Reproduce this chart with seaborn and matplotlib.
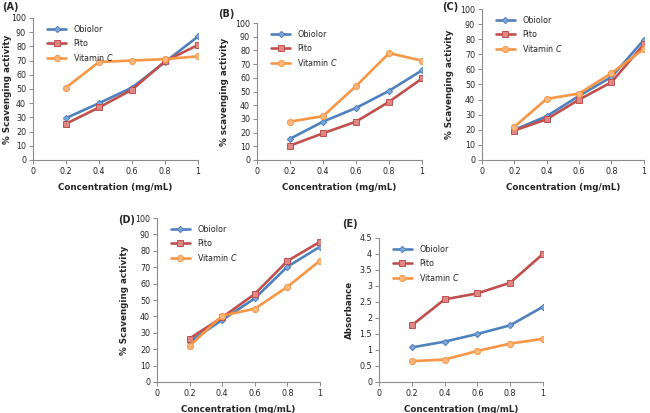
import numpy as np
import pandas as pd
import matplotlib
matplotlib.use('Agg')
import matplotlib.pyplot as plt
import seaborn as sns

sns.set_theme(style='white')
plt.rcParams['font.family'] = ['DejaVu Sans']

# Data
conc = [0.2, 0.4, 0.6, 0.8, 1.0]
series = ['Obiolor', 'Pito', 'Vitamin C']

a_obiolor = [29.5, 40, 51, 69, 87]
a_pito = [25.5, 37, 49.5, 69.5, 81]
a_vitc = [51, 69, 70, 71, 73]

b_obiolor = [15.5, 28, 38, 50.5, 65.5]
b_pito = [10.5, 19.5, 28, 42.5, 59.5]
b_vitc = [28, 32, 54, 78, 72.5]

c_obiolor = [20, 29, 42.5, 55, 79.5]
c_pito = [19.5, 27, 40, 51.5, 76.5]
c_vitc = [22, 40.5, 44, 57.5, 73.5]

d_obiolor = [24.5, 37.8, 51, 70.3, 82.5]
d_pito = [26.5, 39.4, 53.7, 73.8, 85.5]
d_vitc = [22, 40.4, 44.7, 58, 74]

e_obiolor = [1.08, 1.26, 1.5, 1.77, 2.35]
e_pito = [1.77, 2.58, 2.77, 3.1, 4.0]
e_vitc = [0.65, 0.7, 0.97, 1.2, 1.35]

palette = {'Obiolor': '#4F81BD', 'Pito': '#C0504D', 'Vitamin C': '#F79646'}
faces = {'Obiolor': '#7EA6D8', 'Pito': '#DE8784', 'Vitamin C': '#FBB77C'}
markers = {'Obiolor': 'D', 'Pito': 's', 'Vitamin C': 'o'}
msizes = {'Obiolor': 3.2, 'Pito': 4.2, 'Vitamin C': 4.4}

fig = plt.figure(figsize=(6.5, 4.13), dpi=100)

panels = [
    # label, data, ylabel, axes rect, ymax, ystep, label pos, ylabel x
    ('(A)', (a_obiolor, a_pito, a_vitc), '% Scavenging activity',
     [0.0508, 0.6126, 0.254, 0.344], 100, 10, (0.003, 0.995), -0.128),
    ('(B)', (b_obiolor, b_pito, b_vitc), '% scavenging activity',
     [0.3954, 0.6126, 0.254, 0.3317], 100, 10, (0.335, 0.978), -0.17),
    ('(C)', (c_obiolor, c_pito, c_vitc), '% Scavenging activity',
     [0.7415, 0.6126, 0.249, 0.3656], 100, 10, (0.680, 0.995), -0.175),
    ('(D)', (d_obiolor, d_pito, d_vitc), '% Scavenging activity',
     [0.2415, 0.0751, 0.2508, 0.397], 100, 10, (0.182, 0.480), -0.17),
    ('(E)', (e_obiolor, e_pito, e_vitc), 'Absorbance',
     [0.583, 0.0751, 0.2523, 0.3487], 4.5, 0.5, (0.527, 0.470), -0.155),
]

axis_col = '#8C8C8C'

for label, vals, ylabel, rect, ymax, ystep, lpos, ylx in panels:
    ax = fig.add_axes(rect)
    df = pd.DataFrame({
        'conc': conc * 3,
        'value': list(vals[0]) + list(vals[1]) + list(vals[2]),
        'series': sum([[s] * len(conc) for s in series], []),
    })
    for s in series:
        sub = df[df['series'] == s]
        sns.lineplot(data=sub, x='conc', y='value', ax=ax, color=palette[s],
                     linewidth=1.9, marker=markers[s], markersize=msizes[s],
                     markeredgecolor=palette[s], markerfacecolor=faces[s],
                     markeredgewidth=0.7, label=s)
    ax.set_xlim(0, 1)
    ax.set_ylim(0, ymax)
    ax.set_xticks([0, 0.2, 0.4, 0.6, 0.8, 1.0])
    ax.set_xticklabels(['0', '0.2', '0.4', '0.6', '0.8', '1'])
    yt = np.arange(0, ymax + ystep / 2, ystep)
    ax.set_yticks(yt)
    ax.set_yticklabels([('%g' % t) for t in yt])
    ax.tick_params(axis='both', labelsize=5.8, length=3, width=0.7,
                   color=axis_col, direction='out', pad=2,
                   left=True, bottom=True)
    sns.despine(ax=ax)
    for sp in ['left', 'bottom']:
        ax.spines[sp].set_color(axis_col)
        ax.spines[sp].set_linewidth(0.8)
    ax.set_xlabel('Concentration (mg/mL)', fontsize=6.3, fontweight='bold',
                  labelpad=5)
    ax.set_ylabel(ylabel, fontsize=6.3, fontweight='bold')
    ax.yaxis.set_label_coords(ylx, 0.5)
    leg = ax.legend(loc='upper left', bbox_to_anchor=(0.04, 1.0), frameon=False,
                    fontsize=5.8, handlelength=2.4, handletextpad=0.9,
                    labelspacing=0.55)
    for t in leg.get_texts():
        if t.get_text() == 'Vitamin C':
            t.set_text('Vitamin $\\it{C}$')
    fig.text(lpos[0], lpos[1], label, fontsize=7, fontweight='bold',
             ha='left', va='top')

fig.savefig('out.png', dpi=100)
